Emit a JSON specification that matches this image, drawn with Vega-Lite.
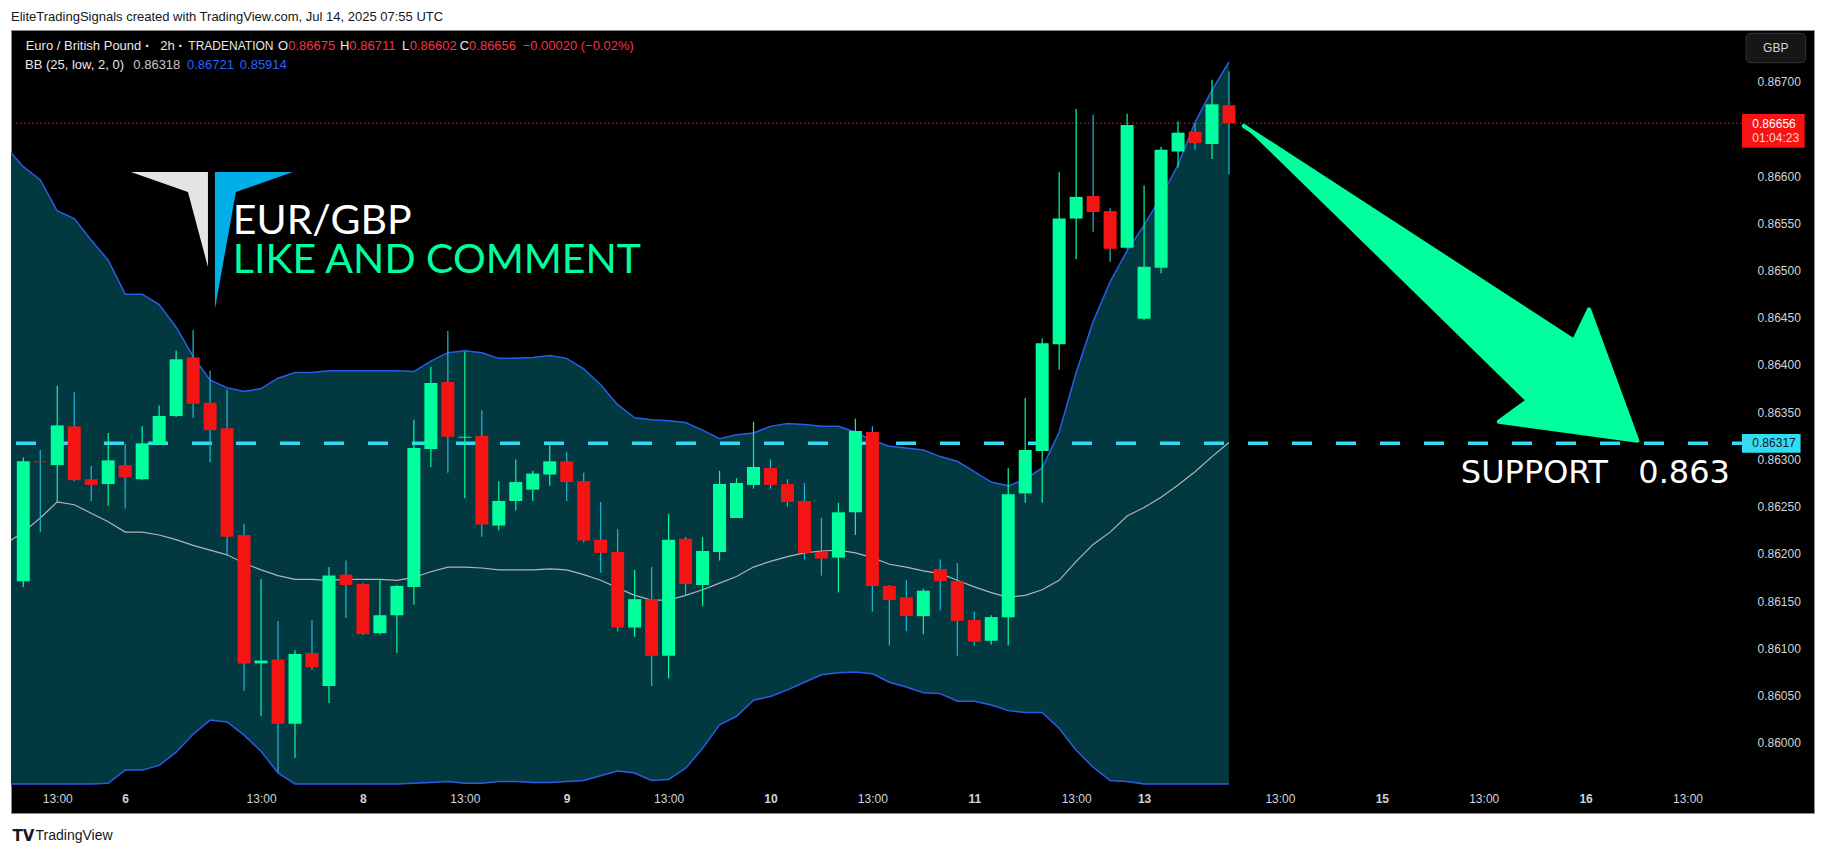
{
"$schema": "https://vega.github.io/schema/vega-lite/v6.json",
"autosize": "none",
"width": 1803,
"height": 783,
"padding": {"left": 11, "top": 30, "right": 12, "bottom": 41},
"background": "#ffffff",
"config": {
 "view": {"fill": "#000000", "stroke": "#8a8a8a", "strokeWidth": 1},
 "axis": {"grid": false, "ticks": false, "labelColor": "#d1d4dc", "labelFont": "Liberation Sans", "labelFontSize": 12, "labelOverlap": false, "labelFlush": false, "labelBound": false},
 "axisX": {"domain": true, "domainColor": "#000000", "domainWidth": 3, "zindex": 1, "labelPadding": 9},
 "axisY": {"domain": false, "labelPadding": 10, "labelAlign": "left", "labelBaseline": "middle"}
},
"title": {"text": "EliteTradingSignals created with TradingView.com, Jul 14, 2025 07:55 UTC", "anchor": "start", "frame": "group", "fontSize": 13, "font": "Liberation Sans", "fontWeight": "normal", "color": "#131722", "offset": 9, "dy": 13, "baseline": "alphabetic"},
"datasets": {
"candles": [
{"i":0,"o":0.86171,"h":0.86302,"l":0.86165,"c":0.86298},
{"i":1,"o":0.86298,"h":0.86310,"l":0.86223,"c":0.86297},
{"i":2,"o":0.86294,"h":0.86378,"l":0.86255,"c":0.86336},
{"i":3,"o":0.86335,"h":0.86371,"l":0.86277,"c":0.86278},
{"i":4,"o":0.86279,"h":0.86293,"l":0.86256,"c":0.86273},
{"i":5,"o":0.86274,"h":0.86328,"l":0.86251,"c":0.86299},
{"i":6,"o":0.86294,"h":0.86316,"l":0.86248,"c":0.86281},
{"i":7,"o":0.86279,"h":0.86335,"l":0.86278,"c":0.86317},
{"i":8,"o":0.86316,"h":0.86357,"l":0.86316,"c":0.86346},
{"i":9,"o":0.86346,"h":0.86415,"l":0.86345,"c":0.86406},
{"i":10,"o":0.86408,"h":0.86437,"l":0.86344,"c":0.86359},
{"i":11,"o":0.86360,"h":0.86394,"l":0.86297,"c":0.86331},
{"i":12,"o":0.86333,"h":0.86374,"l":0.86198,"c":0.86218},
{"i":13,"o":0.86220,"h":0.86232,"l":0.86055,"c":0.86084},
{"i":14,"o":0.86084,"h":0.86173,"l":0.86028,"c":0.86087},
{"i":15,"o":0.86088,"h":0.86129,"l":0.85969,"c":0.86020},
{"i":16,"o":0.86020,"h":0.86098,"l":0.85984,"c":0.86094},
{"i":17,"o":0.86095,"h":0.86130,"l":0.86077,"c":0.86080},
{"i":18,"o":0.86060,"h":0.86186,"l":0.86042,"c":0.86177},
{"i":19,"o":0.86178,"h":0.86193,"l":0.86132,"c":0.86167},
{"i":20,"o":0.86168,"h":0.86169,"l":0.86114,"c":0.86115},
{"i":21,"o":0.86116,"h":0.86172,"l":0.86115,"c":0.86135},
{"i":22,"o":0.86135,"h":0.86167,"l":0.86095,"c":0.86166},
{"i":23,"o":0.86165,"h":0.86342,"l":0.86146,"c":0.86312},
{"i":24,"o":0.86311,"h":0.86398,"l":0.86292,"c":0.86381},
{"i":25,"o":0.86382,"h":0.86436,"l":0.86286,"c":0.86324},
{"i":26,"o":0.86323,"h":0.86414,"l":0.86259,"c":0.86324},
{"i":27,"o":0.86325,"h":0.86352,"l":0.86218,"c":0.86231},
{"i":28,"o":0.86230,"h":0.86277,"l":0.86225,"c":0.86256},
{"i":29,"o":0.86256,"h":0.86300,"l":0.86246,"c":0.86276},
{"i":30,"o":0.86268,"h":0.86288,"l":0.86256,"c":0.86285},
{"i":31,"o":0.86284,"h":0.86315,"l":0.86272,"c":0.86298},
{"i":32,"o":0.86298,"h":0.86308,"l":0.86256,"c":0.86276},
{"i":33,"o":0.86277,"h":0.86286,"l":0.86212,"c":0.86214},
{"i":34,"o":0.86215,"h":0.86255,"l":0.86180,"c":0.86201},
{"i":35,"o":0.86202,"h":0.86226,"l":0.86118,"c":0.86122},
{"i":36,"o":0.86122,"h":0.86183,"l":0.86112,"c":0.86152},
{"i":37,"o":0.86152,"h":0.86186,"l":0.86060,"c":0.86092},
{"i":38,"o":0.86092,"h":0.86242,"l":0.86068,"c":0.86215},
{"i":39,"o":0.86216,"h":0.86218,"l":0.86156,"c":0.86168},
{"i":40,"o":0.86167,"h":0.86218,"l":0.86145,"c":0.86203},
{"i":41,"o":0.86202,"h":0.86288,"l":0.86193,"c":0.86274},
{"i":42,"o":0.86238,"h":0.86280,"l":0.86238,"c":0.86275},
{"i":43,"o":0.86273,"h":0.86340,"l":0.86269,"c":0.86292},
{"i":44,"o":0.86291,"h":0.86300,"l":0.86269,"c":0.86273},
{"i":45,"o":0.86274,"h":0.86279,"l":0.86250,"c":0.86255},
{"i":46,"o":0.86256,"h":0.86275,"l":0.86194,"c":0.86201},
{"i":47,"o":0.86202,"h":0.86238,"l":0.86177,"c":0.86195},
{"i":48,"o":0.86196,"h":0.86254,"l":0.86159,"c":0.86244},
{"i":49,"o":0.86244,"h":0.86343,"l":0.86220,"c":0.86330},
{"i":50,"o":0.86329,"h":0.86335,"l":0.86139,"c":0.86166},
{"i":51,"o":0.86166,"h":0.86167,"l":0.86103,"c":0.86151},
{"i":52,"o":0.86154,"h":0.86172,"l":0.86118,"c":0.86134},
{"i":53,"o":0.86134,"h":0.86163,"l":0.86115,"c":0.86161},
{"i":54,"o":0.86184,"h":0.86194,"l":0.86140,"c":0.86171},
{"i":55,"o":0.86171,"h":0.86190,"l":0.86092,"c":0.86129},
{"i":56,"o":0.86130,"h":0.86139,"l":0.86103,"c":0.86107},
{"i":57,"o":0.86108,"h":0.86135,"l":0.86104,"c":0.86133},
{"i":58,"o":0.86133,"h":0.86291,"l":0.86103,"c":0.86263},
{"i":59,"o":0.86264,"h":0.86365,"l":0.86254,"c":0.86310},
{"i":60,"o":0.86309,"h":0.86428,"l":0.86254,"c":0.86423},
{"i":61,"o":0.86422,"h":0.86604,"l":0.86395,"c":0.86555},
{"i":62,"o":0.86555,"h":0.86671,"l":0.86512,"c":0.86578},
{"i":63,"o":0.86579,"h":0.86665,"l":0.86541,"c":0.86562},
{"i":64,"o":0.86563,"h":0.86566,"l":0.86509,"c":0.86523},
{"i":65,"o":0.86524,"h":0.86666,"l":0.86523,"c":0.86654},
{"i":66,"o":0.86449,"h":0.86590,"l":0.86448,"c":0.86504},
{"i":67,"o":0.86503,"h":0.86631,"l":0.86497,"c":0.86628},
{"i":68,"o":0.86626,"h":0.86658,"l":0.86609,"c":0.86646},
{"i":69,"o":0.86647,"h":0.86656,"l":0.86628,"c":0.86635},
{"i":70,"o":0.86634,"h":0.86702,"l":0.86618,"c":0.86676},
{"i":71,"o":0.86675,"h":0.86711,"l":0.86602,"c":0.86656}
],
"bb": [
{"i":-1,"up":0.86630,"mid":0.86211,"lo":0.85792},
{"i":0,"up":0.86610,"mid":0.86223,"lo":0.85836},
{"i":1,"up":0.86596,"mid":0.86238,"lo":0.85880},
{"i":2,"up":0.86563,"mid":0.86255,"lo":0.85947},
{"i":3,"up":0.86555,"mid":0.86252,"lo":0.85949},
{"i":4,"up":0.86532,"mid":0.86243,"lo":0.85954},
{"i":5,"up":0.86511,"mid":0.86234,"lo":0.85957},
{"i":6,"up":0.86475,"mid":0.86223,"lo":0.85971},
{"i":7,"up":0.86475,"mid":0.86223,"lo":0.85971},
{"i":8,"up":0.86464,"mid":0.86220,"lo":0.85976},
{"i":9,"up":0.86440,"mid":0.86215,"lo":0.85990},
{"i":10,"up":0.86409,"mid":0.86209,"lo":0.86009},
{"i":11,"up":0.86384,"mid":0.86204,"lo":0.86024},
{"i":12,"up":0.86376,"mid":0.86199,"lo":0.86022},
{"i":13,"up":0.86372,"mid":0.86190,"lo":0.86008},
{"i":14,"up":0.86375,"mid":0.86183,"lo":0.85991},
{"i":15,"up":0.86386,"mid":0.86177,"lo":0.85968},
{"i":16,"up":0.86392,"mid":0.86173,"lo":0.85954},
{"i":17,"up":0.86392,"mid":0.86173,"lo":0.85954},
{"i":18,"up":0.86394,"mid":0.86172,"lo":0.85950},
{"i":19,"up":0.86394,"mid":0.86173,"lo":0.85952},
{"i":20,"up":0.86394,"mid":0.86173,"lo":0.85952},
{"i":21,"up":0.86394,"mid":0.86173,"lo":0.85952},
{"i":22,"up":0.86394,"mid":0.86172,"lo":0.85950},
{"i":23,"up":0.86393,"mid":0.86175,"lo":0.85957},
{"i":24,"up":0.86404,"mid":0.86181,"lo":0.85958},
{"i":25,"up":0.86413,"mid":0.86186,"lo":0.85959},
{"i":26,"up":0.86415,"mid":0.86186,"lo":0.85957},
{"i":27,"up":0.86413,"mid":0.86185,"lo":0.85957},
{"i":28,"up":0.86407,"mid":0.86183,"lo":0.85959},
{"i":29,"up":0.86407,"mid":0.86183,"lo":0.85959},
{"i":30,"up":0.86408,"mid":0.86183,"lo":0.85958},
{"i":31,"up":0.86410,"mid":0.86184,"lo":0.85958},
{"i":32,"up":0.86407,"mid":0.86183,"lo":0.85959},
{"i":33,"up":0.86396,"mid":0.86178,"lo":0.85960},
{"i":34,"up":0.86379,"mid":0.86172,"lo":0.85965},
{"i":35,"up":0.86358,"mid":0.86164,"lo":0.85970},
{"i":36,"up":0.86344,"mid":0.86156,"lo":0.85968},
{"i":37,"up":0.86342,"mid":0.86151,"lo":0.85960},
{"i":38,"up":0.86341,"mid":0.86151,"lo":0.85961},
{"i":39,"up":0.86339,"mid":0.86156,"lo":0.85973},
{"i":40,"up":0.86331,"mid":0.86162,"lo":0.85994},
{"i":41,"up":0.86322,"mid":0.86169,"lo":0.86019},
{"i":42,"up":0.86326,"mid":0.86176,"lo":0.86028},
{"i":43,"up":0.86328,"mid":0.86186,"lo":0.86045},
{"i":44,"up":0.86335,"mid":0.86192,"lo":0.86049},
{"i":45,"up":0.86338,"mid":0.86197,"lo":0.86056},
{"i":46,"up":0.86337,"mid":0.86201,"lo":0.86064},
{"i":47,"up":0.86335,"mid":0.86203,"lo":0.86072},
{"i":48,"up":0.86335,"mid":0.86204,"lo":0.86074},
{"i":49,"up":0.86329,"mid":0.86201,"lo":0.86075},
{"i":50,"up":0.86320,"mid":0.86196,"lo":0.86073},
{"i":51,"up":0.86314,"mid":0.86189,"lo":0.86064},
{"i":52,"up":0.86312,"mid":0.86186,"lo":0.86059},
{"i":53,"up":0.86310,"mid":0.86182,"lo":0.86053},
{"i":54,"up":0.86303,"mid":0.86179,"lo":0.86052},
{"i":55,"up":0.86298,"mid":0.86172,"lo":0.86044},
{"i":56,"up":0.86287,"mid":0.86165,"lo":0.86044},
{"i":57,"up":0.86276,"mid":0.86159,"lo":0.86040},
{"i":58,"up":0.86272,"mid":0.86154,"lo":0.86034},
{"i":59,"up":0.86279,"mid":0.86156,"lo":0.86032},
{"i":60,"up":0.86291,"mid":0.86162,"lo":0.86032},
{"i":61,"up":0.86329,"mid":0.86172,"lo":0.86015},
{"i":62,"up":0.86392,"mid":0.86192,"lo":0.85992},
{"i":63,"up":0.86446,"mid":0.86210,"lo":0.85974},
{"i":64,"up":0.86488,"mid":0.86223,"lo":0.85960},
{"i":65,"up":0.86521,"mid":0.86240,"lo":0.85959},
{"i":66,"up":0.86548,"mid":0.86249,"lo":0.85950},
{"i":67,"up":0.86578,"mid":0.86260,"lo":0.85942},
{"i":68,"up":0.86612,"mid":0.86273,"lo":0.85934},
{"i":69,"up":0.86657,"mid":0.86287,"lo":0.85917},
{"i":70,"up":0.86691,"mid":0.86303,"lo":0.85915},
{"i":71,"up":0.86721,"mid":0.86318,"lo":0.85914}
],
"arrow": [
{"t":71.87,"p":0.866531},
{"t":91.32,"p":0.864257},
{"t":92.20,"p":0.864590},
{"t":95.05,"p":0.863198},
{"t":86.89,"p":0.863399},
{"t":88.51,"p":0.863611}
]
},
"layer": [
{"data":{"name":"bb"},"mark":{"type":"area","color":"#023940","opacity":1,"clip":true},
 "encoding":{
  "x":{"field":"i","type":"quantitative","scale":{"domain":[-0.43,101.21],"range":[0,1736],"nice":false,"zero":false},
   "axis":{"orient":"bottom","offset":-29,"values":[2,6,14,20,26,32,38,44,50,56,62,66,74,80,86,92,98],
    "labelExpr":"datum.value==6?'6':datum.value==20?'8':datum.value==32?'9':datum.value==44?'10':datum.value==56?'11':datum.value==66?'13':datum.value==80?'15':datum.value==92?'16':'13:00'",
    "labelFontWeight":{"condition":{"test":"indexof([6,20,32,44,56,66,80,92], datum.value) >= 0","value":"bold"},"value":"normal"},
    "title":"TradingView","titleX":24,"titleY":51,"titleAlign":"left","titleAnchor":"start","titleBaseline":"middle","titleColor":"#131722","titleFont":"Liberation Sans","titleFontSize":14,"titleFontWeight":"normal"}},
  "y":{"field":"up","type":"quantitative","scale":{"domain":[0.859563,0.867547],"range":[754,0],"nice":false,"zero":false,"clamp":true},
   "axis":{"orient":"right","offset":-67,"values":[0.86,0.8605,0.861,0.8615,0.862,0.8625,0.863,0.8635,0.864,0.8645,0.865,0.8655,0.866,0.867],"format":".5f",
    "title":"TV","titleAngle":0,"titleX":-1735,"titleY":805,"titleAlign":"left","titleAnchor":"start","titleBaseline":"middle","titleColor":"#131722","titleFont":"DejaVu Sans","titleFontSize":15,"titleFontWeight":900}},
  "y2":{"field":"lo"}}},
{"data":{"name":"bb"},"mark":{"type":"line","color":"#2b5ce6","strokeWidth":1.5,"clip":true},
 "encoding":{"x":{"field":"i","type":"quantitative"},"y":{"field":"up","type":"quantitative"}}},
{"data":{"name":"bb"},"mark":{"type":"line","color":"#2b5ce6","strokeWidth":1.5,"clip":true},
 "encoding":{"x":{"field":"i","type":"quantitative"},"y":{"field":"lo","type":"quantitative"}}},
{"data":{"name":"bb"},"mark":{"type":"line","color":"#b4b4b4","strokeWidth":1.2,"clip":true},
 "encoding":{"x":{"field":"i","type":"quantitative"},"y":{"field":"mid","type":"quantitative"}}},
{"data":{"values":[{}]},"mark":{"type":"rule","color":"#33dcf2","strokeWidth":3.5,"strokeDash":[20,24]},
 "encoding":{"x":{"datum":-0.43,"type":"quantitative"},"x2":{"datum":101.21},"y":{"datum":0.86317,"type":"quantitative"}}},
{"data":{"values":[{}]},"mark":{"type":"rule","color":"#e8242e","strokeWidth":1,"strokeDash":[1.5,2.5]},
 "encoding":{"x":{"datum":-0.43,"type":"quantitative"},"x2":{"datum":101.21},"y":{"datum":0.86656,"type":"quantitative"}}},
{"data":{"name":"candles"},"mark":{"type":"rule","strokeWidth":1.2},
 "encoding":{"x":{"field":"i","type":"quantitative"},"y":{"field":"l","type":"quantitative"},"y2":{"field":"h"},
  "color":{"condition":{"test":"datum.c >= datum.o","value":"#00ff9d"},"value":"#1fb8da"}}},
{"data":{"name":"candles"},"mark":{"type":"bar","size":13},
 "encoding":{"x":{"field":"i","type":"quantitative"},"y":{"field":"o","type":"quantitative"},"y2":{"field":"c"},
  "color":{"condition":{"test":"datum.c >= datum.o","value":"#00ff9d"},"value":"#f41414"}}},
{"data":{"name":"arrow"},"mark":{"type":"line","filled":true,"color":"#00ff9d","stroke":"#00ff9d","strokeWidth":4,"strokeJoin":"round","strokeCap":"round"},
 "encoding":{"x":{"field":"t","type":"quantitative"},"y":{"field":"p","type":"quantitative"},"order":{"value":null}}},
{"data":{"values":[{}]},"mark":{"type":"rect","color":"#f41414"},
 "encoding":{"x":{"datum":101.21,"type":"quantitative"},"x2":{"datum":104.9},"y":{"datum":0.866658,"type":"quantitative"},"y2":{"datum":0.866301}}},
{"data":{"values":[{}]},"mark":{"type":"text","text":"0.86656","align":"left","baseline":"middle","font":"Liberation Sans","fontSize":12,"color":"#ffffff"},
 "encoding":{"x":{"datum":101.82,"type":"quantitative"},"y":{"datum":0.866549,"type":"quantitative"}}},
{"data":{"values":[{}]},"mark":{"type":"text","text":"01:04:23","align":"left","baseline":"middle","font":"Liberation Sans","fontSize":12,"color":"#ffd6d6"},
 "encoding":{"x":{"datum":101.82,"type":"quantitative"},"y":{"datum":0.8664,"type":"quantitative"}}},
{"data":{"values":[{}]},"mark":{"type":"rect","color":"#33dcf2"},
 "encoding":{"x":{"datum":101.21,"type":"quantitative"},"x2":{"datum":104.66},"y":{"datum":0.863269,"type":"quantitative"},"y2":{"datum":0.863071}}},
{"data":{"values":[{}]},"mark":{"type":"text","text":"0.86317","align":"left","baseline":"middle","font":"Liberation Sans","fontSize":12,"color":"#131722"},
 "encoding":{"x":{"datum":101.82,"type":"quantitative"},"y":{"datum":0.86317,"type":"quantitative"}}},
{"data":{"values":[{}]},"mark":{"type":"rect","color":"#161616","stroke":"#333333","strokeWidth":1,"cornerRadius":4},
 "encoding":{"x":{"datum":101.45,"type":"quantitative"},"x2":{"datum":104.96},"y":{"datum":0.867512,"type":"quantitative"},"y2":{"datum":0.867201}}},
{"data":{"values":[{}]},"mark":{"type":"text","text":"GBP","align":"center","baseline":"middle","font":"Liberation Sans","fontSize":12,"color":"#d1d4dc"},
 "encoding":{"x":{"datum":103.2,"type":"quantitative"},"y":{"datum":0.867357,"type":"quantitative"}}},
{"data":{"values":[{}]},"mark":{"type":"text","text":"Euro / British Pound","align":"left","baseline":"middle","font":"Liberation Sans","fontSize":13,"color":"#e8e8e8"},
 "encoding":{"x":{"datum":0.14,"type":"quantitative"},"y":{"datum":0.867378,"type":"quantitative"}}},
{"data":{"values":[{}]},"mark":{"type":"text","text":"·","align":"center","baseline":"middle","font":"Liberation Sans","fontSize":15,"fontWeight":"bold","color":"#e8e8e8"},
 "encoding":{"x":{"datum":7.32,"type":"quantitative"},"y":{"datum":0.867378,"type":"quantitative"}}},
{"data":{"values":[{}]},"mark":{"type":"text","text":"2h","align":"left","baseline":"middle","font":"Liberation Sans","fontSize":13,"color":"#e8e8e8"},
 "encoding":{"x":{"datum":8.06,"type":"quantitative"},"y":{"datum":0.867378,"type":"quantitative"}}},
{"data":{"values":[{}]},"mark":{"type":"text","text":"·","align":"center","baseline":"middle","font":"Liberation Sans","fontSize":15,"fontWeight":"bold","color":"#e8e8e8"},
 "encoding":{"x":{"datum":9.27,"type":"quantitative"},"y":{"datum":0.867378,"type":"quantitative"}}},
{"data":{"values":[{}]},"mark":{"type":"text","text":"TRADENATION","align":"left","baseline":"middle","font":"Liberation Sans","fontSize":12,"color":"#e8e8e8"},
 "encoding":{"x":{"datum":9.72,"type":"quantitative"},"y":{"datum":0.867378,"type":"quantitative"}}},
{"data":{"values":[{}]},"mark":{"type":"text","text":"O","align":"left","baseline":"middle","font":"Liberation Sans","fontSize":13,"color":"#e8e8e8"},
 "encoding":{"x":{"datum":15.0,"type":"quantitative"},"y":{"datum":0.867378,"type":"quantitative"}}},
{"data":{"values":[{}]},"mark":{"type":"text","text":"0.86675","align":"left","baseline":"middle","font":"Liberation Sans","fontSize":13,"color":"#f23645"},
 "encoding":{"x":{"datum":15.6,"type":"quantitative"},"y":{"datum":0.867378,"type":"quantitative"}}},
{"data":{"values":[{}]},"mark":{"type":"text","text":"H","align":"left","baseline":"middle","font":"Liberation Sans","fontSize":13,"color":"#e8e8e8"},
 "encoding":{"x":{"datum":18.65,"type":"quantitative"},"y":{"datum":0.867378,"type":"quantitative"}}},
{"data":{"values":[{}]},"mark":{"type":"text","text":"0.86711","align":"left","baseline":"middle","font":"Liberation Sans","fontSize":13,"color":"#f23645"},
 "encoding":{"x":{"datum":19.2,"type":"quantitative"},"y":{"datum":0.867378,"type":"quantitative"}}},
{"data":{"values":[{}]},"mark":{"type":"text","text":"L","align":"left","baseline":"middle","font":"Liberation Sans","fontSize":13,"color":"#e8e8e8"},
 "encoding":{"x":{"datum":22.3,"type":"quantitative"},"y":{"datum":0.867378,"type":"quantitative"}}},
{"data":{"values":[{}]},"mark":{"type":"text","text":"0.86602","align":"left","baseline":"middle","font":"Liberation Sans","fontSize":13,"color":"#f23645"},
 "encoding":{"x":{"datum":22.75,"type":"quantitative"},"y":{"datum":0.867378,"type":"quantitative"}}},
{"data":{"values":[{}]},"mark":{"type":"text","text":"C","align":"left","baseline":"middle","font":"Liberation Sans","fontSize":13,"color":"#e8e8e8"},
 "encoding":{"x":{"datum":25.7,"type":"quantitative"},"y":{"datum":0.867378,"type":"quantitative"}}},
{"data":{"values":[{}]},"mark":{"type":"text","text":"0.86656","align":"left","baseline":"middle","font":"Liberation Sans","fontSize":13,"color":"#f23645"},
 "encoding":{"x":{"datum":26.25,"type":"quantitative"},"y":{"datum":0.867378,"type":"quantitative"}}},
{"data":{"values":[{}]},"mark":{"type":"text","text":"−0.00020 (−0.02%)","align":"left","baseline":"middle","font":"Liberation Sans","fontSize":13,"color":"#f23645"},
 "encoding":{"x":{"datum":29.4,"type":"quantitative"},"y":{"datum":0.867378,"type":"quantitative"}}},
{"data":{"values":[{}]},"mark":{"type":"text","text":"BB (25, low, 2, 0)","align":"left","baseline":"middle","font":"Liberation Sans","fontSize":13,"color":"#e8e8e8"},
 "encoding":{"x":{"datum":0.1,"type":"quantitative"},"y":{"datum":0.867177,"type":"quantitative"}}},
{"data":{"values":[{}]},"mark":{"type":"text","text":"0.86318","align":"left","baseline":"middle","font":"Liberation Sans","fontSize":13,"color":"#c8c8c8"},
 "encoding":{"x":{"datum":6.48,"type":"quantitative"},"y":{"datum":0.867177,"type":"quantitative"}}},
{"data":{"values":[{}]},"mark":{"type":"text","text":"0.86721","align":"left","baseline":"middle","font":"Liberation Sans","fontSize":13,"color":"#2962ff"},
 "encoding":{"x":{"datum":9.64,"type":"quantitative"},"y":{"datum":0.867177,"type":"quantitative"}}},
{"data":{"values":[{}]},"mark":{"type":"text","text":"0.85914","align":"left","baseline":"middle","font":"Liberation Sans","fontSize":13,"color":"#2962ff"},
 "encoding":{"x":{"datum":12.75,"type":"quantitative"},"y":{"datum":0.867177,"type":"quantitative"}}},
{"data":{"values":[{}]},"mark":{"type":"point","shape":"M-1,-0.846L-0.049,-0.846L-0.049,0.327L-0.296,-0.599Z","size":26244,"filled":true,"color":"#e4e4e4","opacity":1,"strokeWidth":0},
 "encoding":{"x":{"datum":11.107,"type":"quantitative"},"y":{"datum":0.865318,"type":"quantitative"}}},
{"data":{"values":[{}]},"mark":{"type":"point","shape":"M0.037,-0.846L1,-0.846L0.296,-0.599L0.037,0.846Z","size":26244,"filled":true,"color":"#00aee8","opacity":1,"strokeWidth":0},
 "encoding":{"x":{"datum":11.107,"type":"quantitative"},"y":{"datum":0.865318,"type":"quantitative"}}},
{"data":{"values":[{}]},"mark":{"type":"text","text":"EUR/GBP","align":"left","baseline":"alphabetic","font":"Lato","fontSize":41,"color":"#ffffff"},
 "encoding":{"x":{"datum":12.34,"type":"quantitative"},"y":{"datum":0.865387,"type":"quantitative"}}},
{"data":{"values":[{}]},"mark":{"type":"text","text":"LIKE AND COMMENT","align":"left","baseline":"alphabetic","font":"Lato","fontSize":41,"color":"#00ff9d"},
 "encoding":{"x":{"datum":12.34,"type":"quantitative"},"y":{"datum":0.864979,"type":"quantitative"}}},
{"data":{"values":[{}]},"mark":{"type":"text","text":"SUPPORT\u00a0\u00a0 0.863","align":"right","baseline":"alphabetic","font":"DejaVu Sans","fontSize":32,"color":"#ffffff"},
 "encoding":{"x":{"datum":100.5,"type":"quantitative"},"y":{"datum":0.862747,"type":"quantitative"}}}
]
}
